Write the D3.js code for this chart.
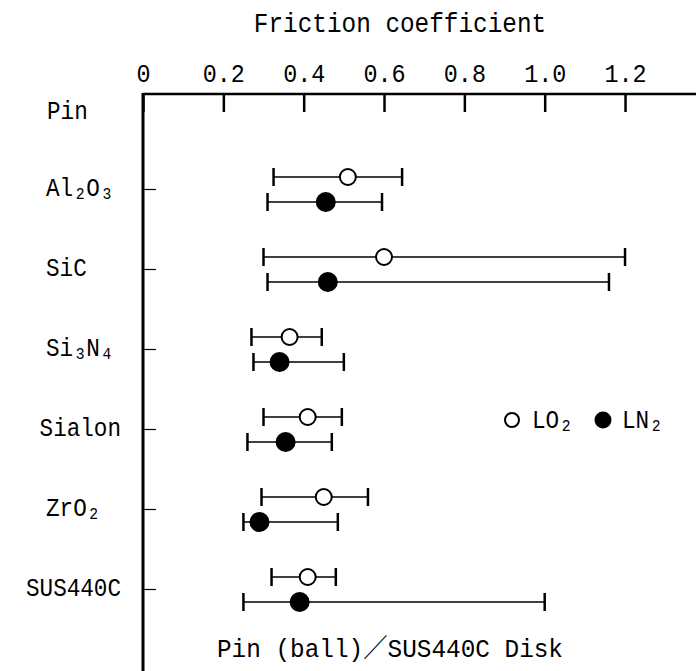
<!DOCTYPE html>
<html>
<head>
<meta charset="utf-8">
<script src="https://cdn.jsdelivr.net/npm/d3@7"></script>
<style>
  body { margin: 0; background: #fff; }
  text { font-family: "Liberation Mono", "Noto Sans CJK JP", monospace; fill: #000; }
</style>
</head>
<body>
<svg width="696" height="671"></svg>
<script>
// materials, "_n" marks a subscript digit
var materials = ["Al_2O_3", "SiC", "Si_3N_4", "Sialon", "ZrO_2", "SUS440C"];
var xTicks = [0, 0.2, 0.4, 0.6, 0.8, 1.0, 1.2];

// LO2 (open circles)
var lo2Mean = [0.51, 0.60, 0.365, 0.41, 0.45, 0.41];
var lo2Low = [0.325, 0.30, 0.27, 0.30, 0.295, 0.32];
var lo2High = [0.645, 1.20, 0.445, 0.495, 0.56, 0.48];

// LN2 (filled circles)
var ln2Mean = [0.455, 0.46, 0.34, 0.355, 0.29, 0.39];
var ln2Low = [0.31, 0.31, 0.275, 0.26, 0.25, 0.25];
var ln2High = [0.595, 1.16, 0.50, 0.47, 0.485, 1.0];

var svg = d3.select('svg');
var width = 696, height = 671;
var axisTopY = 94, axisLeftX = 143;
var squeeze = 0.87;

var x = d3.scaleLinear()
    .domain([0, 1.4])
    .range([axisLeftX, axisLeftX + 1.4 * 401.7]);

var y = d3.scalePoint()
    .domain(materials)
    .range([189, 589]);

// writes "Al_2O_3" style strings as tspans with subscripts
function richText(sel, str, size) {
    var parts = str.split(/(_\d)/).filter(s => s.length);
    var down = false;
    parts.forEach(p => {
        if (p[0] === '_') {
            sel.append('tspan').attr('font-size', size * 0.65).attr('dx', 3).attr('dy', 3).text(p.slice(1));
            down = true;
        } else {
            sel.append('tspan').attr('font-size', size)
                .attr('dx', down ? 2 : 0).attr('dy', down ? -3 : 0).text(p);
            down = false;
        }
    });
}

function label(px, py, anchor, size) {
    return svg.append('text')
        .attr('transform', 'translate(' + px + ',' + py + ') scale(' + squeeze + ',1)')
        .attr('text-anchor', anchor)
        .attr('font-size', size);
}

// title
label(400, 32, 'middle', 28).text('Friction coefficient');

// top axis
var xAxis = d3.axisTop(x)
    .tickValues(xTicks)
    .tickSizeInner(-18)
    .tickSizeOuter(0)
    .tickPadding(12)
    .tickFormat(d => d === 0 ? '0' : d.toFixed(1));

var gx = svg.append('g')
    .attr('transform', 'translate(0,' + axisTopY + ')')
    .call(xAxis);
gx.select('.domain').attr('d', 'M' + axisLeftX + ',0H' + width).attr('stroke-width', 2.5);
gx.selectAll('.tick line').attr('stroke-width', 2.5);
gx.selectAll('.tick text')
    .attr('font-size', 26)
    .attr('font-family', null)
    .attr('fill', '#000')
    .attr('transform', 'scale(0.9,1)');

// left axis
var yAxis = d3.axisRight(y)
    .tickSize(13)
    .tickFormat('');
var gy = svg.append('g')
    .attr('transform', 'translate(' + axisLeftX + ',0)')
    .call(yAxis);
gy.select('.domain').remove();
gy.selectAll('.tick line').attr('stroke-width', 1.2);
svg.append('line')
    .attr('x1', axisLeftX).attr('x2', axisLeftX)
    .attr('y1', axisTopY - 1).attr('y2', height)
    .attr('stroke', '#000').attr('stroke-width', 3);

// row labels
label(47, 119, 'start', 26).text('Pin');
materials.forEach(m => {
    var t = label(0, y(m) + 7, 'start', 26);
    richText(t, m, 26);
    var w = t.node().getBBox().width * squeeze;
    var lx = Math.min(46, axisLeftX - 22 - w);
    t.attr('transform', 'translate(' + lx + ',' + (y(m) + 7) + ') scale(' + squeeze + ',1)');
});

// error bars
var series = [
    {mean: lo2Mean, low: lo2Low, high: lo2High, dy: -12, fill: '#fff', r: 8},
    {mean: ln2Mean, low: ln2Low, high: ln2High, dy: 13, fill: '#000', r: 9}
];

series.forEach(s => {
    var rows = materials.map((m, i) => ({m: m, mean: s.mean[i], low: s.low[i], high: s.high[i]}));
    var g = svg.append('g');
    g.selectAll('.bar').data(rows).join('line')
        .attr('x1', d => x(d.low)).attr('x2', d => x(d.high))
        .attr('y1', d => y(d.m) + s.dy).attr('y2', d => y(d.m) + s.dy)
        .attr('stroke', '#000').attr('stroke-width', 1.5);
    ['low', 'high'].forEach(k => {
        g.selectAll('.cap-' + k).data(rows).join('line')
            .attr('x1', d => x(d[k])).attr('x2', d => x(d[k]))
            .attr('y1', d => y(d.m) + s.dy - 9).attr('y2', d => y(d.m) + s.dy + 9)
            .attr('stroke', '#000').attr('stroke-width', 2.5);
    });
    g.selectAll('circle').data(rows).join('circle')
        .attr('cx', d => x(d.mean))
        .attr('cy', d => y(d.m) + s.dy)
        .attr('r', s.r)
        .attr('fill', s.fill)
        .attr('stroke', '#000').attr('stroke-width', 2);
});

// legend
svg.append('circle').attr('cx', 512).attr('cy', 420).attr('r', 7)
    .attr('fill', '#fff').attr('stroke', '#000').attr('stroke-width', 2);
richText(label(532, 428, 'start', 26), 'LO_2', 26);
svg.append('circle').attr('cx', 603).attr('cy', 420).attr('r', 8.5)
    .attr('fill', '#000');
richText(label(622, 428, 'start', 26), 'LN_2', 26);

// bottom note
label(217, 657, 'start', 26)
    .attr('textLength', 346 / squeeze)
    .attr('lengthAdjust', 'spacingAndGlyphs')
    .text('Pin (ball)／SUS440C Disk');
</script>
</body>
</html>
